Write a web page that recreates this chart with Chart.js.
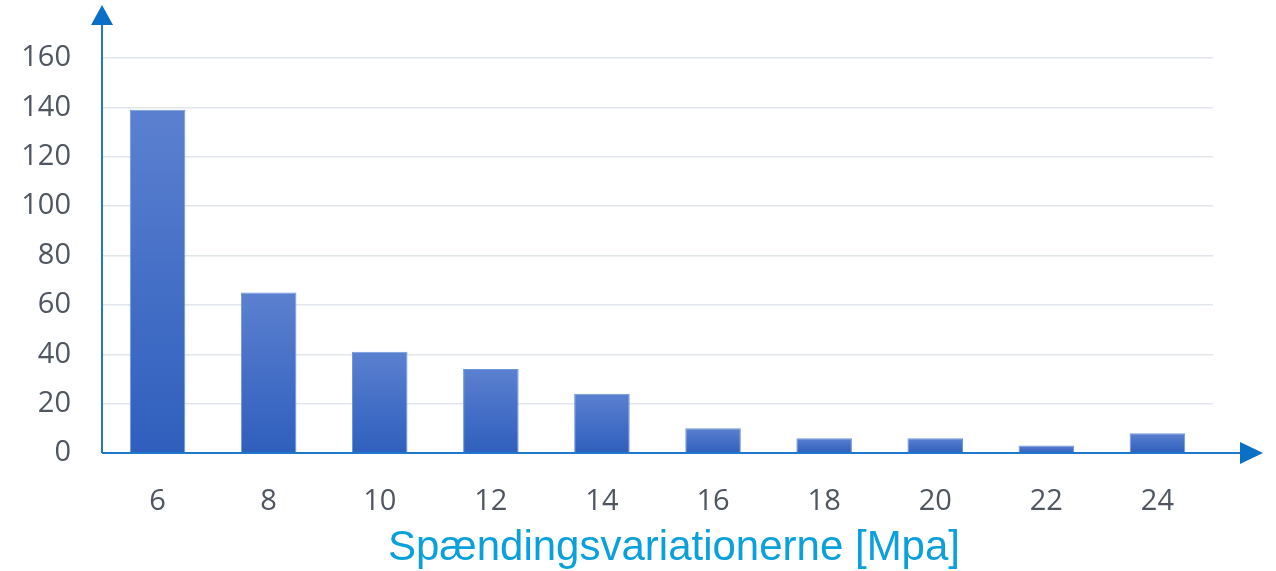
<!DOCTYPE html>
<html>
<head>
<meta charset="utf-8">
<script src="https://cdn.jsdelivr.net/npm/chart.js@4"></script>
<style>
  html, body { margin: 0; padding: 0; background: #fff; }
  #wrap { width: 1276px; height: 571px; }
</style>
</head>
<body>
<div id="wrap"><canvas id="chart" width="1276" height="571"></canvas></div>
<script>
/* ======================
DATA
====================== */

const categories = ["6", "8", "10", "12", "14", "16", "18", "20", "22", "24"];
const counts = [139, 65, 41, 34, 24, 10, 6, 6, 3, 8];
const yTicks = [0, 20, 40, 60, 80, 100, 120, 140, 160];
const xTitle = "Spændingsvariationerne [Mpa]";

/* ======================
STYLE
====================== */

const AXIS_BLUE = "#1f78cc";
const TICK_GREY = "#4f5660";

/* per-bar vertical gradient, light on top, dark at the base */
function barFill(ctx) {
  const chart = ctx.chart;
  if (!chart.chartArea || ctx.parsed == null) return "#4470c8";
  const y = chart.scales.y;
  const top = y.getPixelForValue(ctx.parsed.y);
  const bottom = y.getPixelForValue(0);
  if (!isFinite(top) || bottom - top < 1) return "#4470c8";
  const g = chart.ctx.createLinearGradient(0, top, 0, bottom);
  g.addColorStop(0, "#5b80d0");
  g.addColorStop(1, "#2f5fbd");
  return g;
}

/* axis lines with arrow heads, plus the x title */
const arrowAxes = {
  id: "arrowAxes",
  afterDatasetsDraw(chart) {
    const c = chart.ctx;
    const x0 = chart.scales.x.left;
    const y0 = chart.scales.y.getPixelForValue(0);
    c.save();
    c.strokeStyle = AXIS_BLUE;
    c.fillStyle = "#0a6fc6";
    c.lineWidth = 2;
    c.beginPath();
    c.moveTo(x0, y0);
    c.lineTo(x0, 18);
    c.moveTo(x0, y0);
    c.lineTo(1244, y0);
    c.stroke();
    c.beginPath();
    c.moveTo(x0, 5);
    c.lineTo(x0 - 11, 25);
    c.lineTo(x0 + 11, 25);
    c.closePath();
    c.fill();
    c.beginPath();
    c.moveTo(1263, y0);
    c.lineTo(1240, y0 - 11);
    c.lineTo(1240, y0 + 11);
    c.closePath();
    c.fill();

    c.fillStyle = "#0aa0dc";
    c.font = "42px 'Liberation Sans'";
    c.textAlign = "center";
    c.textBaseline = "middle";
    c.fillText(xTitle, 674, 548);
    c.restore();
  }
};

/* ======================
CHART
====================== */

new Chart(document.getElementById("chart"), {
  type: "bar",
  data: {
    labels: categories,
    datasets: [{
      data: counts,
      backgroundColor: barFill,
      borderColor: "#6d97dd",
      borderWidth: 1,
      barPercentage: 0.5,
      categoryPercentage: 1.0
    }]
  },
  options: {
    responsive: false,
    animation: false,
    events: [],
    layout: { padding: { top: 58, right: 63, left: 0, bottom: 0 } },
    plugins: { legend: { display: false }, tooltip: { enabled: false } },
    scales: {
      x: {
        grid: { display: false, drawTicks: false },
        border: { display: false },
        ticks: {
          color: TICK_GREY,
          font: { family: "Open Sans", size: 29 },
          padding: 31
        },
        afterFit(scale) { scale.height = 118; }
      },
      y: {
        min: 0,
        max: 160,
        afterBuildTicks(scale) {
          scale.ticks = yTicks.map(v => ({ value: v }));
        },
        grid: { color: "#e1e5ec", lineWidth: 1.5, drawTicks: false },
        border: { display: false },
        ticks: {
          color: TICK_GREY,
          font: { family: "Open Sans", size: 29 },
          padding: 31
        },
        afterFit(scale) { scale.width = 102; }
      }
    }
  },
  plugins: [arrowAxes]
});
</script>
</body>
</html>
